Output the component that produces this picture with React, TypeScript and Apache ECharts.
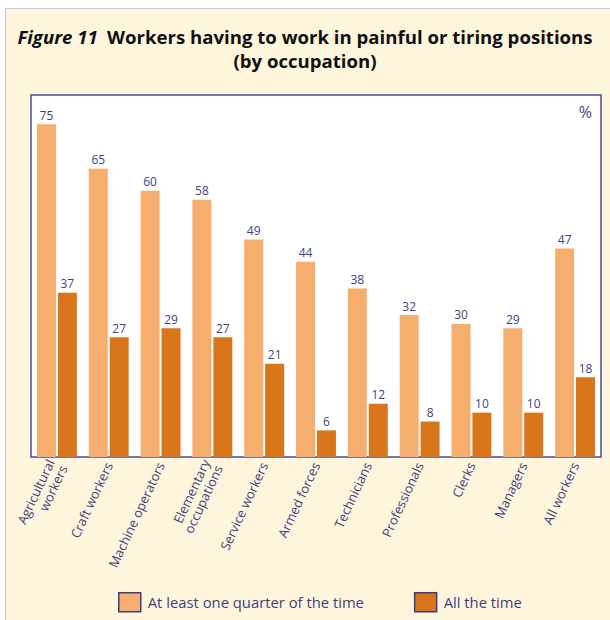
import React, { useEffect, useRef } from "react";
import * as echarts from "echarts";

const categories = [
  "Agricultural\nworkers",
  "Craft workers",
  "Machine operators",
  "Elementary\noccupations",
  "Service workers",
  "Armed forces",
  "Technicians",
  "Professionals",
  "Clerks",
  "Managers",
  "All workers",
];
const quarterValues = [75, 65, 60, 58, 49, 44, 38, 32, 30, 29, 47];
const allTimeValues = [37, 27, 29, 27, 21, 6, 12, 8, 10, 10, 18];
const seriesNames = ["At least one quarter of the time", "All the time"];

const NAVY = "#3f3f7f";
const FONT = "'Open Sans', 'Noto Sans', sans-serif";

export default function App() {
  const ref = useRef<HTMLDivElement>(null);
  useEffect(() => {
    if (!ref.current) return;
    const chart = echarts.init(ref.current, undefined, { renderer: "svg" });
    chart.setOption({
      animation: false,
      backgroundColor: "transparent",
      textStyle: { fontFamily: FONT },
      title: [
        {
          text: "{i|Figure 11}  {b|Workers having to work in painful or tiring positions}",
          left: "center",
          top: 27,
          padding: 0,
          textStyle: {
            rich: {
              i: { fontSize: 18.6, fontWeight: "bold", fontStyle: "italic", color: "#111", fontFamily: FONT },
              b: { fontSize: 18.6, fontWeight: "bold", color: "#111", fontFamily: FONT },
            },
          },
        },
        {
          text: "(by occupation)",
          left: "center",
          top: 51,
          padding: 0,
          textStyle: { fontSize: 18.6, fontWeight: "bold", color: "#111", fontFamily: FONT },
        },
      ],
      graphic: [
        {
          type: "text",
          right: 18,
          top: 104,
          style: { text: "%", fontSize: 16, fill: NAVY, fontFamily: FONT },
        },
      ],
      legend: {
        data: seriesNames,
        left: 113,
        top: 587,
        itemWidth: 22,
        itemHeight: 19,
        itemGap: 50,
        icon: "rect",
        itemStyle: { borderColor: NAVY, borderWidth: 1.5 },
        textStyle: { fontSize: 14.8, color: NAVY, fontFamily: FONT, padding: [0, 0, 0, 2] },
      },
      grid: {
        left: 31,
        top: 95,
        width: 570,
        height: 362,
        show: true,
        backgroundColor: "#ffffff",
        borderColor: "#4b4b8b",
        borderWidth: 1.5,
        containLabel: false,
      },
      xAxis: {
        type: "category",
        data: categories,
        axisLine: { show: false },
        axisTick: { show: false },
        axisLabel: {
          rotate: 65,
          interval: 0,
          color: NAVY,
          fontSize: 13,
          fontFamily: FONT,
          margin: 6,
          lineHeight: 14,
        },
      },
      yAxis: {
        type: "value",
        min: 0,
        max: 81.6,
        show: false,
        splitLine: { show: false },
      },
      series: [
        {
          name: seriesNames[0],
          type: "bar",
          data: quarterValues,
          barWidth: 19,
          barGap: "10%",
          itemStyle: { color: "#f5ae6e" },
          label: { show: true, position: "top", distance: 3, color: NAVY, fontSize: 12, fontFamily: FONT },
        },
        {
          name: seriesNames[1],
          type: "bar",
          data: allTimeValues,
          barWidth: 19,
          barGap: "10%",
          itemStyle: { color: "#d9761c" },
          label: { show: true, position: "top", distance: 3, color: NAVY, fontSize: 12, fontFamily: FONT },
        },
      ],
    });
    return () => chart.dispose();
  }, []);
  return (
    <div style={{ position: "fixed", left: 0, top: 0, width: 610, height: 620, background: "#ffffff" }}>
      <div
        style={{
          position: "absolute",
          left: 5,
          top: 8,
          right: 0,
          bottom: 0,
          background: "#fef6dc",
          borderLeft: "1.5px solid #c6c6e2",
          borderTop: "1.5px solid #c6c6e2",
        }}
      />
      <div ref={ref} style={{ position: "absolute", left: 0, top: 0, width: 610, height: 620 }} />
    </div>
  );
}
